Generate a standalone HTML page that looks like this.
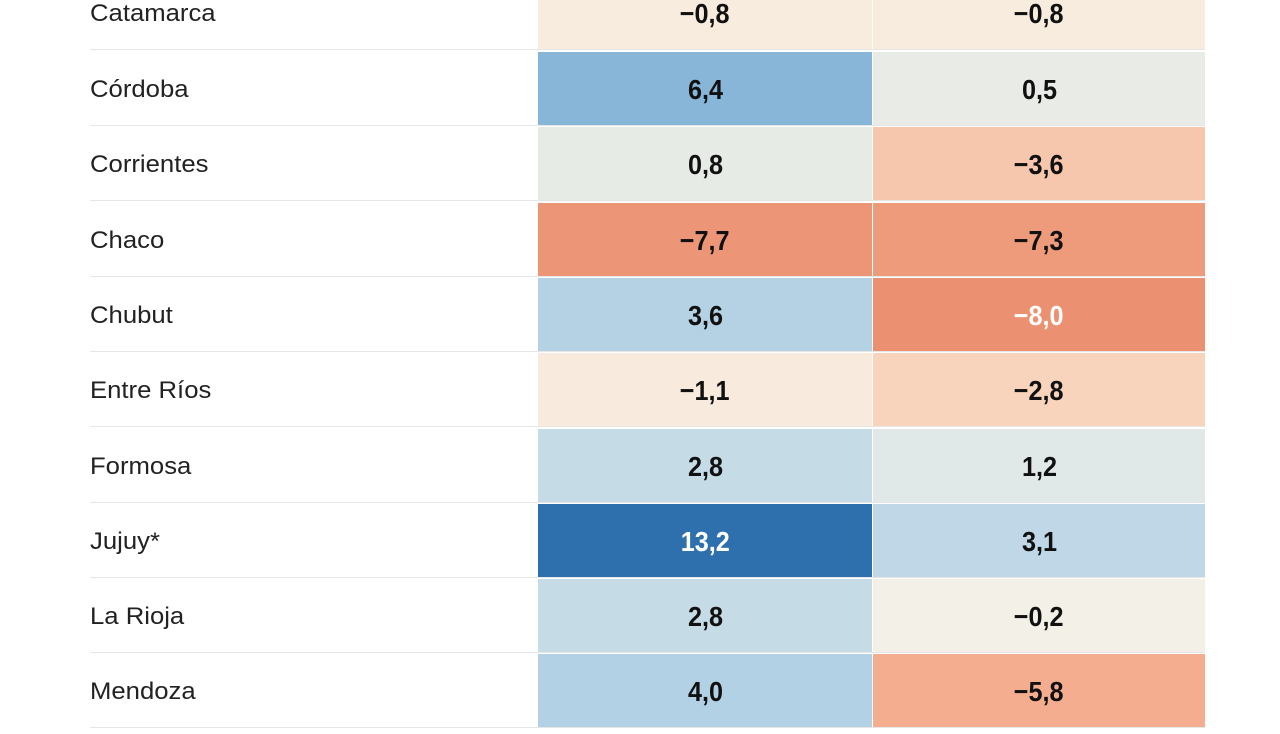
<!DOCTYPE html>
<html><head><meta charset="utf-8"><style>
body{margin:0;width:1280px;height:720px;overflow:hidden;background:#fff;position:relative;font-family:"Liberation Sans",sans-serif}
.r{position:absolute;left:0;width:1280px;height:75px}
.l{position:absolute;left:90px;top:1px;height:75px;line-height:75px;font-size:24px;color:#222;transform:scaleX(1.07);transform-origin:left center}
.ln{position:absolute;left:90px;width:1115px;height:1px;background:#e6e6e6;bottom:0}
.c{position:absolute;top:1px;height:73px;line-height:75px;text-align:center;color:#111}
.c span{display:inline-block;font-weight:bold;font-size:28px;transform:scaleX(0.9)}
.a{left:538px;width:334px}.b{left:873px;width:332px}
</style></head><body>
<div class="r" style="top:-25px"><div class="l">Catamarca</div><div class="c a" style="background:#f8ecdf"><span>−0,8</span></div><div class="c b" style="background:#f8ecdf"><span>−0,8</span></div><div class="ln"></div></div>
<div class="r" style="top:51px"><div class="l">Córdoba</div><div class="c a" style="background:#87b6d9"><span>6,4</span></div><div class="c b" style="background:#e9ece6"><span>0,5</span></div><div class="ln"></div></div>
<div class="r" style="top:126px"><div class="l">Corrientes</div><div class="c a" style="background:#e7ebe5"><span>0,8</span></div><div class="c b" style="background:#f6c7ac"><span>−3,6</span></div><div class="ln"></div></div>
<div class="r" style="top:202px"><div class="l">Chaco</div><div class="c a" style="background:#ec9677"><span>−7,7</span></div><div class="c b" style="background:#ee9b7b"><span>−7,3</span></div><div class="ln"></div></div>
<div class="r" style="top:277px"><div class="l">Chubut</div><div class="c a" style="background:#b4d2e4"><span>3,6</span></div><div class="c b" style="background:#eb9172;color:#fff"><span>−8,0</span></div><div class="ln"></div></div>
<div class="r" style="top:352px"><div class="l">Entre Ríos</div><div class="c a" style="background:#f8eadc"><span>−1,1</span></div><div class="c b" style="background:#f8d4bd"><span>−2,8</span></div><div class="ln"></div></div>
<div class="r" style="top:428px"><div class="l">Formosa</div><div class="c a" style="background:#c5dbe6"><span>2,8</span></div><div class="c b" style="background:#e0e9e7"><span>1,2</span></div><div class="ln"></div></div>
<div class="r" style="top:503px"><div class="l">Jujuy*</div><div class="c a" style="background:#2e6fad;color:#fff"><span>13,2</span></div><div class="c b" style="background:#bfd7e6"><span>3,1</span></div><div class="ln"></div></div>
<div class="r" style="top:578px"><div class="l">La Rioja</div><div class="c a" style="background:#c5dbe6"><span>2,8</span></div><div class="c b" style="background:#f3f1e7"><span>−0,2</span></div><div class="ln"></div></div>
<div class="r" style="top:653px"><div class="l">Mendoza</div><div class="c a" style="background:#b2d1e4"><span>4,0</span></div><div class="c b" style="background:#f4ae8f"><span>−5,8</span></div><div class="ln"></div></div>
</body></html>
